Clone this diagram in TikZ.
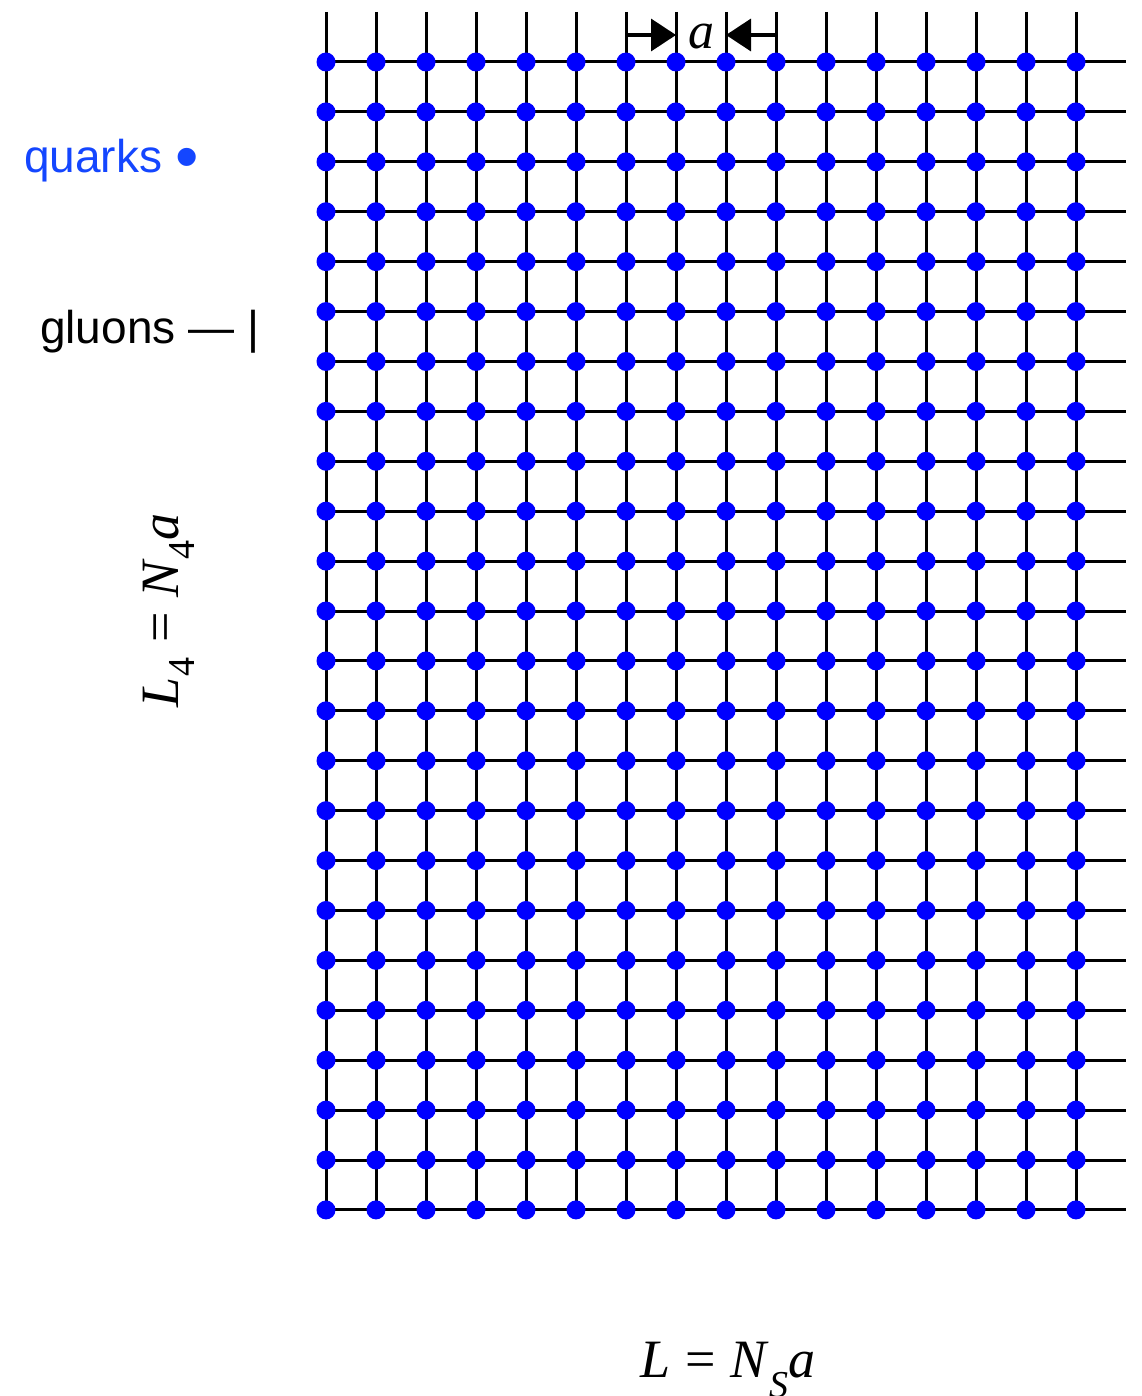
\documentclass[tikz,border=0pt]{standalone}
\usepackage{fontspec}
\setmainfont{Liberation Serif}
\setsansfont{Liberation Sans}
\usetikzlibrary{arrows.meta}
\definecolor{quarkblue}{RGB}{20,70,255}
\definecolor{dotblue}{RGB}{0,0,255}
\tikzset{
  link/.style={line width=3pt, black},
  site/.style={circle, fill=dotblue, inner sep=0pt, minimum size=19pt},
  spacing/.style={line width=3.5pt, -{Triangle[length=25pt,width=32pt]}},
  legend/.style={font=\sffamily\fontsize{46}{50}\selectfont, inner sep=0pt},
  mathlbl/.style={font=\fontsize{54}{60}\selectfont, inner sep=0pt}
}
\begin{document}
\begin{tikzpicture}[x=1pt,y=-1pt]
\useasboundingbox (0,0) rectangle (1141,1396);
% vertical links
\foreach \i in {0,...,15} {
  \draw[link] ({326+50*\i},12) -- ({326+50*\i},1210);
}
% horizontal links
\foreach \j in {0,...,23} {
  \draw[link] (326,{62+49.91*\j}) -- (1126,{62+49.91*\j});
}
% sites (quarks)
\foreach \i in {0,...,15} {
  \foreach \j in {0,...,23} {
    \node[site] (q-\i-\j) at ({326+50*\i},{62+49.91*\j}) {};
  }
}
% lattice spacing marker
\coordinate (aL) at (626,35);
\coordinate (aLend) at (676,35);
\coordinate (aR) at (776,35);
\coordinate (aRend) at (726,35);
\draw[spacing] (aL) -- (aLend);
\draw[spacing] (aR) -- (aRend);
\node[font=\fontsize{52}{56}\selectfont\itshape, inner sep=0pt, anchor=base] (alabel) at (701,49) {a};
% legend
\node[legend, text=quarkblue, anchor=base west] (quarks) at (24,173) {quarks \raisebox{-7pt}{\scalebox{1.45}{•}}};
\node[legend, text=black, anchor=base west] (gluons) at (40,343) {gluons — |};
% extents
\node[mathlbl, rotate=90, anchor=base] (L4) at (178,610)
  {\textit{L}\raisebox{-0.3em}{\fontsize{38}{40}\selectfont 4}\;=\;\textit{N}\raisebox{-0.3em}{\fontsize{38}{40}\selectfont 4}\textit{a}};
\node[mathlbl, anchor=base] (LS) at (728,1377)
  {\textit{L}\;=\;\textit{N}\raisebox{-0.38em}{\fontsize{38}{40}\selectfont\itshape S}\textit{a}};
\end{tikzpicture}
\end{document}
